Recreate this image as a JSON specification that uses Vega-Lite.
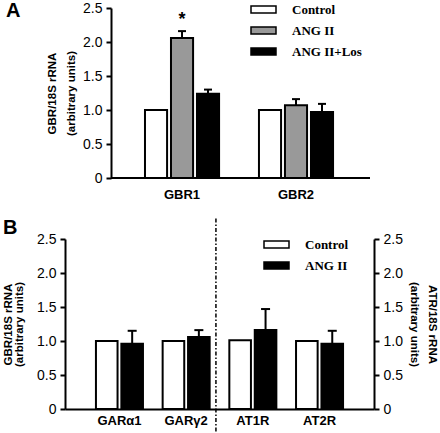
{
  "$schema": "https://vega.github.io/schema/vega-lite/v6.json",
  "padding": {"left": 2, "top": 1, "right": 0, "bottom": 0},
  "spacing": 16,
  "resolve": {"scale": {"x": "independent", "y": "independent", "color": "independent", "xOffset": "independent"}, "legend": {"color": "independent"}},
  "config": {
    "view": {"stroke": null},
    "axis": {"domainColor": "black", "domainWidth": 2, "tickColor": "black", "tickWidth": 2, "tickSize": 5, "labelColor": "black", "titleColor": "black", "labelFont": "Liberation Sans", "titleFont": "Liberation Sans", "grid": false, "labelOverlap": false},
    "legend": {"labelFont": "Liberation Serif", "labelFontWeight": "bold", "labelFontSize": 13, "labelColor": "black", "symbolStrokeColor": "black", "symbolStrokeWidth": 1.5, "symbolSize": 100, "symbolType": "M-2.5,-0.7H2.5V0.7H-2.5Z", "labelOffset": 22, "rowPadding": 7, "padding": 0},
    "title": {"font": "Liberation Sans", "fontSize": 20, "fontWeight": "bold", "color": "black", "anchor": "start", "frame": "group"}
  },
  "vconcat": [
    {
      "title": {"text": "A", "dx": -59, "offset": -20},
      "width": 305,
      "height": 170,
      "data": {"values": [
        {"gene": "GBR1", "group": "Control", "value": 1.0, "err": null, "sig": ""},
        {"gene": "GBR1", "group": "ANG II", "value": 2.06, "err": 2.16, "sig": "*"},
        {"gene": "GBR1", "group": "ANG II+Los", "value": 1.24, "err": 1.3, "sig": ""},
        {"gene": "GBR2", "group": "Control", "value": 1.0, "err": null, "sig": ""},
        {"gene": "GBR2", "group": "ANG II", "value": 1.07, "err": 1.16, "sig": ""},
        {"gene": "GBR2", "group": "ANG II+Los", "value": 0.97, "err": 1.09, "sig": ""}
      ]},
      "encoding": {
        "x": {"field": "gene", "type": "nominal", "sort": ["GBR1", "GBR2"], "scale": {"paddingInner": 0.35, "paddingOuter": 0.513, "align": 0.684},
          "axis": {"title": null, "labelAngle": 0, "ticks": false, "domain": false, "labelFontWeight": "bold", "labelFontSize": 13, "labelPadding": 10}}
      },
      "layer": [
        {
          "encoding": {
            "xOffset": {"field": "group", "type": "nominal", "sort": ["Control", "ANG II", "ANG II+Los"], "scale": {"paddingInner": 0.15, "paddingOuter": 0}}
          },
          "layer": [
            {
              "mark": {"type": "bar", "stroke": "black", "strokeWidth": 2},
              "encoding": {
                "y": {"field": "value", "type": "quantitative", "scale": {"domain": [0, 2.5], "nice": false},
                  "axis": {"offset": -46, "values": [0, 0.5, 1, 1.5, 2, 2.5], "labelExpr": "datum.value == 0 ? '0' : format(datum.value, '.1f')", "labelFontSize": 14, "labelPadding": 4,
                    "title": ["GBR/18S rRNA", "(arbitrary units)"], "titleFontSize": 11.5, "titleFontWeight": "bold", "titleLineHeight": 19, "titlePadding": 6}},
                "color": {"field": "group", "type": "nominal", "sort": ["Control", "ANG II", "ANG II+Los"],
                  "scale": {"domain": ["Control", "ANG II", "ANG II+Los"], "range": ["white", "#999999", "black"]},
                  "legend": {"title": null, "orient": "none", "legendX": 192, "legendY": -5}}
              }
            },
            {
              "transform": [{"filter": "datum.err != null"}],
              "mark": {"type": "rule", "stroke": "black", "strokeWidth": 2},
              "encoding": {
                "y": {"field": "value", "type": "quantitative",
                  "axis": {"offset": -46, "values": [0, 0.5, 1, 1.5, 2, 2.5], "labelExpr": "datum.value == 0 ? '0' : format(datum.value, '.1f')", "labelFontSize": 14, "labelPadding": 4,
                    "title": ["GBR/18S rRNA", "(arbitrary units)"], "titleFontSize": 11.5, "titleFontWeight": "bold", "titleLineHeight": 19, "titlePadding": 6}},
                "y2": {"field": "err"}}
            },
            {
              "transform": [{"filter": "datum.err != null"}],
              "mark": {"type": "tick", "color": "black", "thickness": 2, "size": 8, "opacity": 1},
              "encoding": {"y": {"field": "err", "type": "quantitative",
                  "axis": {"offset": -46, "values": [0, 0.5, 1, 1.5, 2, 2.5], "labelExpr": "datum.value == 0 ? '0' : format(datum.value, '.1f')", "labelFontSize": 14, "labelPadding": 4,
                    "title": ["GBR/18S rRNA", "(arbitrary units)"], "titleFontSize": 11.5, "titleFontWeight": "bold", "titleLineHeight": 19, "titlePadding": 6}}}
            },
            {
              "transform": [{"filter": "datum.sig != ''"}],
              "mark": {"type": "text", "font": "Liberation Sans", "fontWeight": "bold", "fontSize": 18, "dy": -2, "baseline": "bottom", "color": "black"},
              "encoding": {"y": {"field": "err", "type": "quantitative",
                  "axis": {"offset": -46, "values": [0, 0.5, 1, 1.5, 2, 2.5], "labelExpr": "datum.value == 0 ? '0' : format(datum.value, '.1f')", "labelFontSize": 14, "labelPadding": 4,
                    "title": ["GBR/18S rRNA", "(arbitrary units)"], "titleFontSize": 11.5, "titleFontWeight": "bold", "titleLineHeight": 19, "titlePadding": 6}}, "text": {"field": "sig"}}
            }
          ]
        },
        {
          "data": {"values": [{"gene": "GBR1", "level": 0}]},
          "mark": {"type": "rule", "stroke": "black", "strokeWidth": 2},
          "encoding": {
            "x": {"field": "gene", "type": "nominal", "bandPosition": -0.459},
            "x2": {"value": "width"},
            "y": {"field": "level", "type": "quantitative",
              "axis": {"offset": -46, "values": [0, 0.5, 1, 1.5, 2, 2.5], "labelExpr": "datum.value == 0 ? '0' : format(datum.value, '.1f')", "labelFontSize": 14, "labelPadding": 4,
                "title": ["GBR/18S rRNA", "(arbitrary units)"], "titleFontSize": 11.5, "titleFontWeight": "bold", "titleLineHeight": 19, "titlePadding": 6}}
          }
        }
      ]
    },
    {
      "title": {"text": "B", "dx": -62, "offset": -20},
      "width": 309,
      "height": 170,
      "data": {"values": [
        {"gene": "GARα1", "group": "Control", "value": 1.0, "err": null},
        {"gene": "GARα1", "group": "ANG II", "value": 0.96, "err": 1.15},
        {"gene": "GARγ2", "group": "Control", "value": 1.0, "err": null},
        {"gene": "GARγ2", "group": "ANG II", "value": 1.06, "err": 1.16},
        {"gene": "AT1R", "group": "Control", "value": 1.01, "err": null},
        {"gene": "AT1R", "group": "ANG II", "value": 1.16, "err": 1.47},
        {"gene": "AT2R", "group": "Control", "value": 1.0, "err": null},
        {"gene": "AT2R", "group": "ANG II", "value": 0.96, "err": 1.15}
      ]},
      "encoding": {
        "x": {"field": "gene", "type": "nominal", "sort": ["GARα1", "GARγ2", "AT1R", "AT2R"], "scale": {"paddingInner": 0.295, "paddingOuter": 0.464},
          "axis": {"title": null, "labelAngle": 0, "ticks": false, "labelFontWeight": "bold", "labelFontSize": 13, "labelPadding": 5}}
      },
      "layer": [
        {
          "encoding": {
            "xOffset": {"field": "group", "type": "nominal", "sort": ["Control", "ANG II"], "scale": {"paddingInner": 0.15, "paddingOuter": 0}}
          },
          "layer": [
            {
              "mark": {"type": "bar", "stroke": "black", "strokeWidth": 2},
              "encoding": {
                "y": {"field": "value", "type": "quantitative", "scale": {"domain": [0, 2.5], "nice": false},
                  "axis": {"values": [0, 0.5, 1, 1.5, 2, 2.5], "labelExpr": "datum.value == 0 ? '0' : format(datum.value, '.1f')", "labelFontSize": 14, "labelPadding": 4,
                    "title": ["GBR/18S rRNA", "(arbitrary units)"], "titleFontSize": 11.5, "titleFontWeight": "bold", "titleLineHeight": 11, "titlePadding": 12}},
                "color": {"field": "group", "type": "nominal", "sort": ["Control", "ANG II"],
                  "scale": {"domain": ["Control", "ANG II"], "range": ["white", "black"]},
                  "legend": {"title": null, "orient": "none", "legendX": 205, "legendY": -1}}
              }
            },
            {
              "transform": [{"filter": "datum.err != null"}],
              "mark": {"type": "rule", "stroke": "black", "strokeWidth": 2},
              "encoding": {"y": {"field": "value", "type": "quantitative",
                  "axis": {"values": [0, 0.5, 1, 1.5, 2, 2.5], "labelExpr": "datum.value == 0 ? '0' : format(datum.value, '.1f')", "labelFontSize": 14, "labelPadding": 4,
                    "title": ["GBR/18S rRNA", "(arbitrary units)"], "titleFontSize": 11.5, "titleFontWeight": "bold", "titleLineHeight": 11, "titlePadding": 12}}, "y2": {"field": "err"}}
            },
            {
              "transform": [{"filter": "datum.err != null"}],
              "mark": {"type": "tick", "color": "black", "thickness": 2, "size": 9, "opacity": 1},
              "encoding": {"y": {"field": "err", "type": "quantitative",
                  "axis": {"values": [0, 0.5, 1, 1.5, 2, 2.5], "labelExpr": "datum.value == 0 ? '0' : format(datum.value, '.1f')", "labelFontSize": 14, "labelPadding": 4,
                    "title": ["GBR/18S rRNA", "(arbitrary units)"], "titleFontSize": 11.5, "titleFontWeight": "bold", "titleLineHeight": 11, "titlePadding": 12}}}
            }
          ]
        },
        {
          "data": {"values": [{"gene": "AT1R", "top": 2.8, "bottom": -0.39}]},
          "mark": {"type": "rule", "stroke": "black", "strokeWidth": 1.5, "strokeDash": [4, 2, 1.5, 2]},
          "encoding": {
            "x": {"field": "gene", "type": "nominal", "bandPosition": -0.285},
            "y": {"field": "top", "type": "quantitative", "scale": {"domain": [0, 2.5], "nice": false},
              "axis": {"orient": "right", "values": [0, 0.5, 1, 1.5, 2, 2.5], "labelExpr": "datum.value == 0 ? '0' : format(datum.value, '.1f')", "labelFontSize": 14, "labelPadding": 4,
                "title": ["ATR/18S rRNA", "(arbitrary units)"], "titleFontSize": 11.5, "titleFontWeight": "bold", "titleLineHeight": 18, "titlePadding": 6}},
            "y2": {"field": "bottom"}
          }
        }
      ],
      "resolve": {"scale": {"y": "independent"}}
    }
  ]
}
